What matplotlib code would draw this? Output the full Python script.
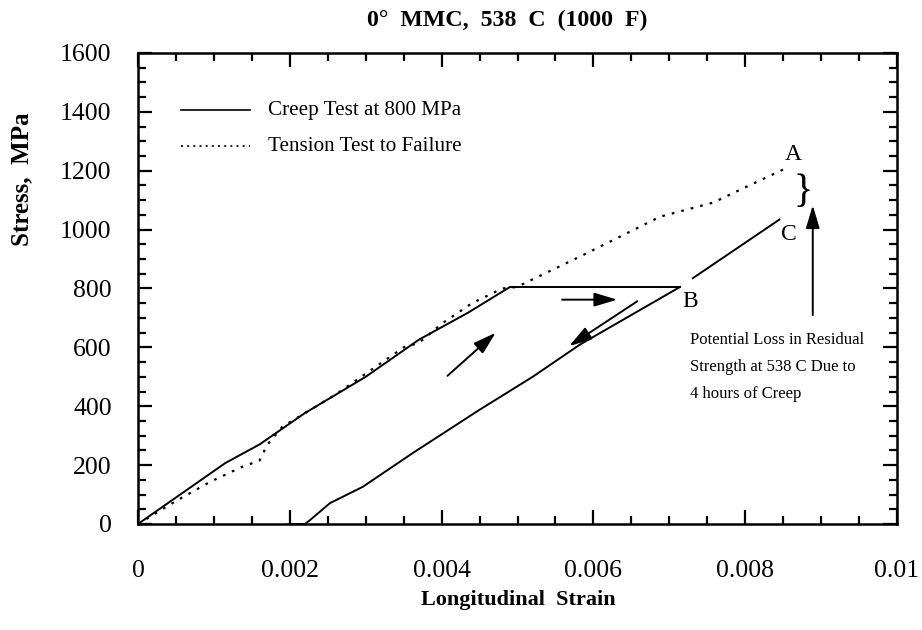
import matplotlib
matplotlib.use("Agg")
import matplotlib.pyplot as plt
from matplotlib.ticker import MultipleLocator

# ---- data ----
creep_load_x = [0, 0.0005, 0.001, 0.00115, 0.0016, 0.0022, 0.003, 0.0037, 0.00435, 0.0049]
creep_load_y = [0, 90, 180, 207, 270, 377, 500, 626, 718, 805]
creep_hold_x = [0.0049, 0.00714]
creep_hold_y = [805, 805]
creep_unload_x = [0.00714, 0.00582, 0.0052, 0.0045, 0.00362, 0.00296, 0.00253, 0.00227, 0.0022, 0.00198]
creep_unload_y = [805, 609, 500, 388, 241, 126, 71, 14, 0, 0]
reload_x = [0.00731, 0.00845]
reload_y = [835, 1034]
tension_x = [0, 0.0005, 0.00095, 0.00137, 0.0016, 0.0017, 0.0019, 0.0026, 0.0035, 0.0037,
             0.0040, 0.0044, 0.0048, 0.00499, 0.00582, 0.00635, 0.00688, 0.00758, 0.00802, 0.0085]
tension_y = [0, 78, 143, 194, 215, 268, 330, 439, 600, 615,
             680, 750, 800, 805, 908, 976, 1044, 1092, 1146, 1204]

x_ticks = [0, 0.002, 0.004, 0.006, 0.008, 0.01]
x_tick_labels = ["0", "0.002", "0.004", "0.006", "0.008", "0.01"]
y_ticks = [0, 200, 400, 600, 800, 1000, 1200, 1400, 1600]

serif = ["Liberation Serif", "DejaVu Serif"]
plt.rcParams["font.family"] = serif

fig = plt.figure(figsize=(9.22, 6.3), dpi=100)
ax = fig.add_axes([0.1497, 0.1683, 0.8232, 0.7476])

ax.plot(creep_load_x, creep_load_y, color="black", lw=1.4)
ax.plot(creep_hold_x, creep_hold_y, color="black", lw=1.4)
ax.plot(creep_unload_x, creep_unload_y, color="black", lw=1.4)
ax.plot(reload_x, reload_y, color="black", lw=1.4)
ax.plot(tension_x, tension_y, color="black", lw=1.6, linestyle=(0, (1.2, 3.2)))

ax.set_xlim(0, 0.01)
ax.set_ylim(0, 1600)
ax.set_xticks(x_ticks)
ax.set_xticklabels(x_tick_labels)
ax.set_yticks(y_ticks)
ax.xaxis.set_minor_locator(MultipleLocator(0.0005))
ax.yaxis.set_minor_locator(MultipleLocator(50))
ax.tick_params(which="both", direction="in", top=True, right=True, width=1.6, labelsize=18.5)
ax.tick_params(axis="x", which="both", pad=26)
ax.tick_params(axis="y", which="both", pad=19)
ax.tick_params(which="major", length=10)
ax.tick_params(which="minor", length=5.5)
for s in ax.spines.values():
    s.set_linewidth(1.8)

fig.text(518 / 922, 1 - 600 / 630, "Longitudinal  Strain", fontsize=16, fontweight="bold",
         ha="center", va="center")
fig.text(22 / 922, 1 - 179 / 630, "Stress,  MPa", fontsize=18, fontweight="bold",
         ha="center", va="center", rotation=90)
fig.text(507 / 922, 1 - 20 / 630, "0\u00b0  MMC,  538  C  (1000  F)", ha="center", va="center",
         fontsize=17.2, fontweight="bold")

# legend (drawn manually)
ax.plot([0.00057, 0.00148], [1405, 1405], color="black", lw=1.2)
ax.plot([0.00057, 0.00148], [1283, 1283], color="black", lw=1.2, linestyle=(0, (1.2, 2.5)))
ax.text(0.00171, 1405, "Creep Test at 800 MPa", fontsize=15.2, va="center", ha="left")
ax.text(0.00171, 1283, "Tension Test to Failure", fontsize=15.2, va="center", ha="left")

# arrows
arrow_kw = dict(arrowstyle="-|>,head_length=1.4,head_width=0.42", color="black", lw=1.4)
ax.annotate("", xy=(0.00474, 656), xytext=(0.00405, 497), arrowprops=arrow_kw)
ax.annotate("", xy=(0.00635, 762), xytext=(0.00555, 762), arrowprops=arrow_kw)
ax.annotate("", xy=(0.00565, 599), xytext=(0.00661, 762), arrowprops=arrow_kw)
ax.annotate("", xy=(0.00889, 1092), xytext=(0.00889, 700), arrowprops=arrow_kw)

# labels
ax.text(0.00863, 1255, "A", fontsize=17, ha="center", va="center")
ax.text(0.00727, 755, "B", fontsize=17, ha="center", va="center")
ax.text(0.00858, 985, "C", fontsize=17, ha="center", va="center")
ax.text(0.00876, 1126, "}", fontsize=29, ha="center", va="center")
ax.text(0.00727, 652, "Potential Loss in Residual\nStrength at 538 C Due to\n4 hours of Creep",
        fontsize=12, ha="left", va="top", linespacing=1.93)

fig.savefig("out.png", dpi=100)
